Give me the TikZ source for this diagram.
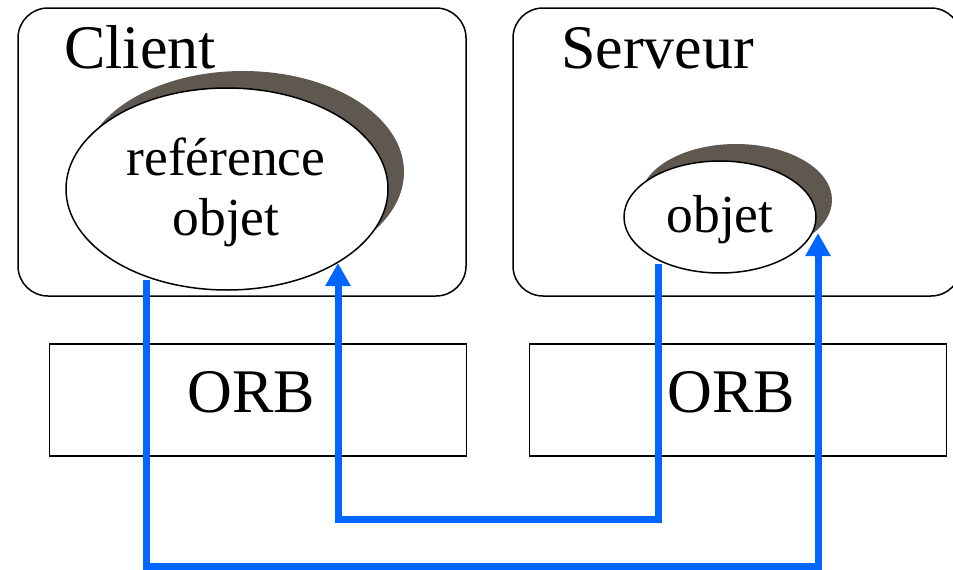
\documentclass[tikz,border=0pt]{standalone}
\usepackage{fontspec}
\setmainfont{Liberation Serif}
\usetikzlibrary{arrows.meta,shapes.geometric,shadows}
\definecolor{flowblue}{RGB}{0,102,255}
\definecolor{shadowcol}{RGB}{94,88,80}
\begin{document}
\begin{tikzpicture}[x=1pt,y=-1pt,
  box/.style={draw=black,line width=1.5pt,rectangle,inner sep=0pt},
  host/.style={box,rounded corners=30pt,minimum width=448pt,minimum height=288pt},
  orbbox/.style={box,minimum width=417pt,minimum height=112pt},
  obj/.style={ellipse,draw=black,line width=1.5pt,fill=white,inner sep=0pt,
    drop shadow={shadow xshift=16pt,shadow yshift=17pt,fill=shadowcol,opacity=1}},
  big/.style={inner sep=0pt,font=\fontsize{62}{70}\selectfont},
  mid/.style={inner sep=0pt,font=\fontsize{53.5}{60}\selectfont},
  flow/.style={draw=flowblue,line width=7pt,-{Triangle[width=24pt,length=23pt]}}
]
\useasboundingbox (0,0) rectangle (953,570);
\clip (0,0) rectangle (953,570);
% hosts
\node[host] (client) at (242,152) {};
\node[host] (serveur) at (737,152) {};
\node[big,anchor=base west] (clienttxt) at (64,68) {Client};
\node[big,anchor=base west] (serveurtxt) at (561,68) {Serveur};
% objects
\node[obj,minimum width=322pt,minimum height=202pt] (cref) at (227,189) {};
\node[obj,minimum width=192pt,minimum height=112pt] (sobj) at (720,217) {};
\node[mid,anchor=base] (reftxt) at (226,175) {reférence};
\node[mid,anchor=base] (objtxtc) at (226,235) {objet};
\node[mid,anchor=base] (objtxts) at (720,232) {objet};
% ORBs
\node[orbbox] (orbL) at (258,400) {};
\node[orbbox] (orbR) at (738,400) {};
\node[big,anchor=base] (orbLtxt) at (251.5,412) {ORB};
\node[big,anchor=base] (orbRtxt) at (731.5,412) {ORB};
% flows
\coordinate (a1) at (146,280);
\coordinate (a2) at (818,233);
\coordinate (b1) at (658,264);
\coordinate (b2) at (338,263);
\draw[flow] (a1) -- ++(0,286) -| (a2);
\draw[flow] (b1) -- ++(0,255) -| (b2);
\end{tikzpicture}
\end{document}
